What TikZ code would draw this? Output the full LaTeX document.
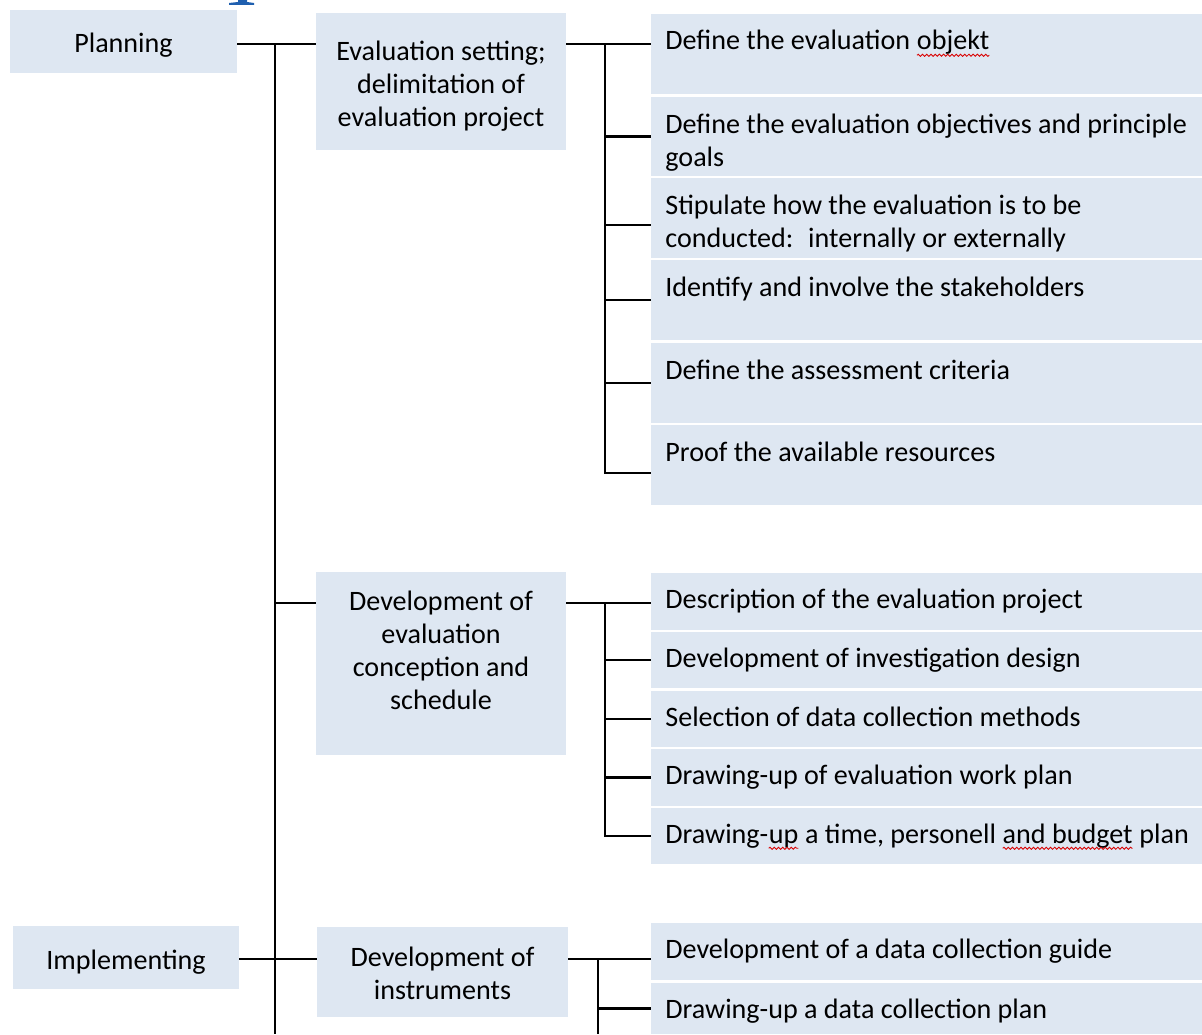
\documentclass[tikz,border=0pt]{standalone}
\usepackage{fontspec}
\setmainfont{Carlito}
\usetikzlibrary{fit,decorations.pathmorphing}
\definecolor{boxfill}{RGB}{222,231,242}
\definecolor{headblue}{RGB}{31,95,175}
% red wavy mark under a word
\newcommand{\spellmark}[1]{\tikz[baseline=(w.base)]{\node[inner sep=0pt,outer sep=0pt] (w) {#1};
  \draw[red!85!black,line width=0.5pt,decorate,decoration={snake,amplitude=0.6pt,segment length=2.4pt}]
    ([yshift=-3pt]w.base west) -- ([yshift=-3pt]w.base east);}}
\begin{document}
\begin{tikzpicture}[x=0.02cm,y=-0.02cm,
    box/.style={fill=boxfill,inner sep=0pt,outer sep=0pt},
    head/.style={align=center,font=\fontsize{16}{18.8}\selectfont,inner sep=0pt},
    item/.style={anchor=base west,text width=10.8cm,align=flush left,font=\fontsize{16}{18.8}\selectfont,inner sep=0pt},
    link/.style={line width=1.4pt}]
\useasboundingbox (0,0) rectangle (1202,1034);
% cut-off heading
\fill[headblue] (238,0) -- (247,0) -- (247,2) -- (254,3) -- (254,5) -- (229,5) -- (229,3) -- (238,2) -- cycle;

% left column
\node[box,fit={(10,10) (237,73)}] (plan) {};
\node[head] (plantext) at ([shift={(0,4)}]plan.center) {Planning};
\node[box,fit={(13,926) (239,989)}] (impl) {};
\node[head] (impltext) at ([shift={(0,5)}]impl.center) {Implementing};

% middle column
\node[box,fit={(316,13) (566,150)}] (eval) {};
\node[head] (evaltext) at ([shift={(0,5)}]eval.center) {Evaluation setting;\\delimitation of\\evaluation project};
\node[box,fit={(316,572) (566,755)}] (conc) {};
\node[head] (conctext) at ([shift={(0,-13)}]conc.center) {Development of\\evaluation\\conception and\\schedule};
\node[box,fit={(317,927) (568,1017)}] (instr) {};
\node[head] (instrtext) at ([shift={(0,1)}]instr.center) {Development of\\instruments};

% right column, first group
\node[box,fit={(651,14) (1202,94)}] (o1) {};
\node[box,fit={(651,97) (1202,176)}] (o2) {};
\node[box,fit={(651,178) (1202,258)}] (o3) {};
\node[box,fit={(651,260) (1202,340)}] (o4) {};
\node[box,fit={(651,343) (1202,423)}] (o5) {};
\node[box,fit={(651,425) (1202,505)}] (o6) {};
\node[item] (o1text) at ([shift={(14,36)}]o1.north west) {Define the evaluation \spellmark{objekt}};
\node[item] (o2text) at ([shift={(14,36)}]o2.north west) {Define the evaluation objectives and principle\\goals};
\node[item] (o3text) at ([shift={(14,36)}]o3.north west) {Stipulate how the evaluation is to be\\conducted:~ internally or externally};
\node[item] (o4text) at ([shift={(14,36)}]o4.north west) {Identify and involve the stakeholders};
\node[item] (o5text) at ([shift={(14,36)}]o5.north west) {Define the assessment criteria};
\node[item] (o6text) at ([shift={(14,36)}]o6.north west) {Proof the available resources};

% right column, second group
\node[box,fit={(651,573) (1202,630)}] (c1) {};
\node[box,fit={(651,632) (1202,688)}] (c2) {};
\node[box,fit={(651,691) (1202,747)}] (c3) {};
\node[box,fit={(651,749) (1202,806)}] (c4) {};
\node[box,fit={(651,808) (1202,864)}] (c5) {};
\node[item] (c1text) at ([shift={(14,35)}]c1.north west) {Description of the evaluation project};
\node[item] (c2text) at ([shift={(14,35)}]c2.north west) {Development of investigation design};
\node[item] (c3text) at ([shift={(14,35)}]c3.north west) {Selection of data collection methods};
\node[item] (c4text) at ([shift={(14,35)}]c4.north west) {Drawing-up of evaluation work plan};
\node[item] (c5text) at ([shift={(14,35)}]c5.north west) {Drawing-\spellmark{up} a time, personell \spellmark{and budget} plan};

% right column, third group
\node[box,fit={(651,923) (1202,980)}] (i1) {};
\node[box,fit={(651,983) (1202,1034)}] (i2) {};
\node[item] (i1text) at ([shift={(14,35)}]i1.north west) {Development of a data collection guide};
\node[item] (i2text) at ([shift={(14,35)}]i2.north west) {Drawing-up a data collection plan};

% connectors
\coordinate (trunk) at (275,44);
\coordinate (trunkend) at (275,1034);
\coordinate (bus1) at (605,44);
\coordinate (bus2) at (605,603);
\coordinate (bus3) at (598,959);
\coordinate (bus3end) at (598,1034);

\draw[link] (trunk) -- (trunkend);
\draw[link] (plan.east |- trunk) -- (eval.west |- trunk);
\draw[link] (eval.east |- bus1) -- (o1.west |- bus1);
\draw[link] (bus1) -- (bus1 |- 0,473) -- (o6.west |- 0,473);
\draw[link] (bus1 |- o2.west) -- (o2.west);
\draw[link] (bus1 |- 0,225) -- (o3.west |- 0,225);
\draw[link] (bus1 |- o4.west) -- (o4.west);
\draw[link] (bus1 |- o5.west) -- (o5.west);

\draw[link] (trunk |- bus2) -- (conc.west |- bus2);
\draw[link] (conc.east |- bus2) -- (c1.west |- bus2);
\draw[link] (bus2) -- (bus2 |- c5.west) -- (c5.west);
\draw[link] (bus2 |- c2.west) -- (c2.west);
\draw[link] (bus2 |- c3.west) -- (c3.west);
\draw[link] (bus2 |- c4.west) -- (c4.west);

\draw[link] (impl.east |- bus3) -- (instr.west |- bus3);
\draw[link] (instr.east |- bus3) -- (i1.west |- bus3);
\draw[link] (bus3) -- (bus3end);
\draw[link] (bus3 |- i2.west) -- (i2.west);
\end{tikzpicture}
\end{document}
